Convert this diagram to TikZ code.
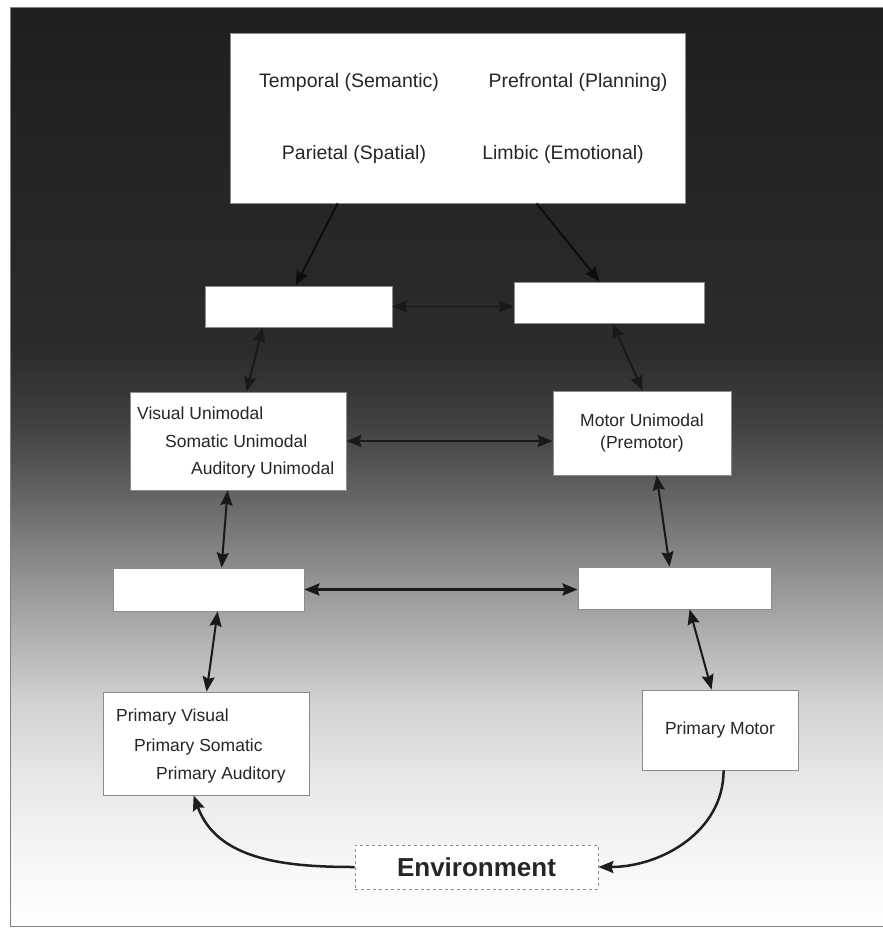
\documentclass[tikz,border=0pt]{standalone}
\usepackage{fontspec}
\setmainfont{Liberation Sans}
\usetikzlibrary{arrows.meta,calc}

% background: dark at the top, fading to white at the bottom
% (the path is mapped onto the 25bp..75bp part of the shading)
\pgfdeclareverticalshading{bgshade}{100bp}{%
  color(0bp)=(white); color(25bp)=(white);
  color(29.08bp)=(black!4); color(32.9bp)=(black!9);
  color(37.25bp)=(black!18); color(40.52bp)=(black!30);
  color(43.79bp)=(black!42); color(47.06bp)=(black!55);
  color(49.78bp)=(black!66); color(52.51bp)=(black!75);
  color(56.32bp)=(black!83); color(75bp)=(black!88);
  color(100bp)=(black!88)}

\begin{document}
\begin{tikzpicture}[x=1pt,y=-1pt,
  box/.style={draw=black!45, line width=0.8pt, fill=white, inner sep=0pt},
  txt/.style={font=\fontsize{17.5}{22}\selectfont, inner sep=0pt, text=black!85},
  toptxt/.style={font=\fontsize{19.5}{22}\selectfont, inner sep=0pt, text=black!85, anchor=base},
  tip/.style={Stealth[length=15pt,width=12pt,inset=2pt]},
  link/.style={draw=black!90, line width=2pt, {Stealth[length=15pt,width=12pt,inset=2pt]}-{Stealth[length=15pt,width=12pt,inset=2pt]}},
  feed/.style={draw=black!88, line width=2pt, -{Stealth[length=15pt,width=12pt,inset=2pt]}}]

\useasboundingbox (0,0) rectangle (883,929);
\path[shading=bgshade, draw=black!50, line width=0.8pt] (10,7) rectangle (884,926);

% association and limbic areas
\node[box, minimum width=455pt, minimum height=170pt] (top) at (457.5,118) {};
\node[toptxt] (t1) at (349,87) {Temporal (Semantic)};
\node[toptxt] (t2) at (578,87) {Prefrontal (Planning)};
\node[toptxt] (t3) at (354,159) {Parietal (Spatial)};
\node[toptxt] (t4) at (563,159) {Limbic (Emotional)};

% empty relay boxes, upper row
\node[box, minimum width=187pt, minimum height=41pt] (bl1) at (298.5,306.5) {};
\node[box, minimum width=190pt, minimum height=41pt] (br1) at (609,302.5) {};

% unimodal areas
\node[box, minimum width=216pt, minimum height=98pt] (vis) at (238,441) {};
\node[txt, anchor=base west] (v1) at (137,419) {Visual Unimodal};
\node[txt, anchor=base west] (v2) at (165,447) {Somatic Unimodal};
\node[txt, anchor=base west] (v3) at (191,474) {Auditory Unimodal};
\node[box, txt, fill=white, minimum width=178pt, minimum height=84pt, align=center] (mot) at (642,433)
  {Motor Unimodal\\(Premotor)};

% empty relay boxes, lower row
\node[box, minimum width=191pt, minimum height=43pt] (bl2) at (208.5,589.5) {};
\node[box, minimum width=193pt, minimum height=42pt] (br2) at (674.5,588) {};

% primary areas
\node[box, minimum width=206pt, minimum height=103pt] (pvis) at (206,743.5) {};
\node[txt, anchor=base west] (p1) at (116,721) {Primary Visual};
\node[txt, anchor=base west] (p2) at (134,751) {Primary Somatic};
\node[txt, anchor=base west] (p3) at (156,779) {Primary Auditory};
\node[box, txt, fill=white, minimum width=156pt, minimum height=80pt] (pmot) at (720,730) {Primary Motor};

% environment
\node[draw=black!45, dashed, line width=0.8pt, fill=white, inner sep=0pt,
      minimum width=243pt, minimum height=44pt,
      font=\fontsize{26}{30}\selectfont\bfseries, text=black!85] (env) at (476.5,867) {Environment};

% descending links from the top box
\draw[feed, draw=black!95, line width=2pt] ([xshift=108pt]top.south west) -- ([xshift=91pt]bl1.north west);
\draw[feed, draw=black!95, line width=2pt] ([xshift=307pt]top.south west) -- ([xshift=86pt]br1.north west);

% vertical two-way links
\draw[link] ([xshift=58pt]bl1.south west) -- ([xshift=117pt]vis.north west);
\draw[link] ([xshift=99pt]br1.south west) -- ([xshift=90pt]mot.north west);
\draw[link] ([xshift=98pt]vis.south west) -- ([xshift=109pt]bl2.north west);
\draw[link] ([xshift=104pt]mot.south west) -- ([xshift=92pt]br2.north west);
\draw[link] ([xshift=105pt]bl2.south west) -- ([xshift=104pt]pvis.north west);
\draw[link] ([xshift=112pt]br2.south west) -- ([xshift=70pt]pmot.north west);

% horizontal two-way links
\draw[link, line width=1.5pt] (bl1.east) -- (bl1.east -| br1.west);
\draw[link, line width=2.8pt] (vis.east) -- (vis.east -| mot.west);
\draw[link, line width=2.8pt] (bl2.east) -- (bl2.east -| br2.west);

% loop through the environment
\draw[feed, line width=2.5pt] (env.west) to[out=180,in=-70] ([xshift=91pt]pvis.south west);
\draw[feed, line width=2.5pt] ([xshift=82pt]pmot.south west) to[out=-90,in=0] (env.east);
\end{tikzpicture}
\end{document}
